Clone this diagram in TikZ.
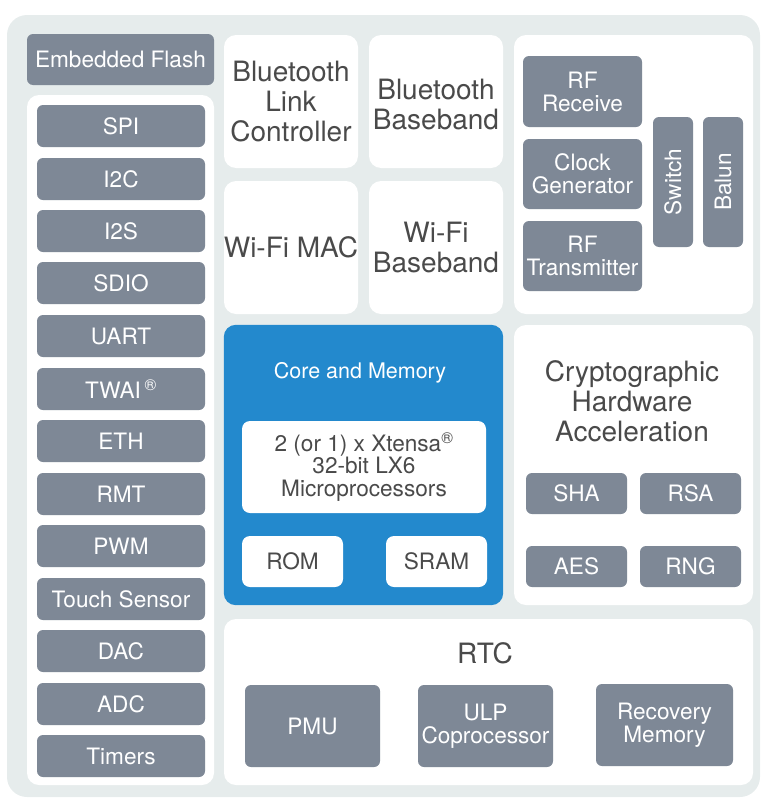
\documentclass[tikz,border=0pt]{standalone}
\usepackage{fontspec}
\setmainfont{TeX Gyre Heros}
\definecolor{bgc}{HTML}{E6ECEC}
\definecolor{boxgray}{HTML}{7E8896}
\definecolor{txt}{HTML}{4A4A4A}
\definecolor{coreblue}{HTML}{2389CD}
\tikzset{
  bgpanel/.style={fill=bgc, rounded corners=20pt},
  panel/.style={fill=white, rounded corners=12pt, inner sep=0pt},
  gbox/.style={fill=boxgray, rounded corners=6pt, text=white, inner sep=0pt, align=center, font=\fontsize{22.6}{23}\selectfont},
  wbox/.style={fill=white, rounded corners=8pt, text=txt, inner sep=0pt, align=center, font=\fontsize{22.6}{22.5}\selectfont},
  bigtext/.style={text=txt, align=center, font=\fontsize{28}{30}\selectfont},
}
\newcommand{\boxat}[6]{\node[#1, minimum width={#5pt-#3pt}, minimum height={#6pt-#4pt}] (#2) at ({(#3+#5)/2},{(#4+#6)/2})}
\begin{document}
\begin{tikzpicture}[x=1pt,y=-1pt]
\useasboundingbox (0,0) rectangle (761,798);
\fill[bgpanel] (7,15) rectangle (760,797);
% left column
\boxat{gbox}{flash}{27}{34}{214}{85}{Embedded Flash};
\boxat{panel}{leftpanel}{27}{95}{214}{785}{};
\foreach \t/\lab [count=\i] in {105/SPI,158/I2C,210/I2S,262/SDIO,315/UART,368/{TWAI\,\textsuperscript{\textregistered}},420/ETH,473/RMT,525/PWM,578/Touch Sensor,630/DAC,683/ADC,735/Timers}{
  \pgfmathsetmacro{\b}{\t+42}
  \boxat{gbox}{p\i}{37}{\t}{205}{\b}{\lab};
}
% radio blocks
\boxat{panel}{btlc}{224}{35}{358}{168}{};
\node[bigtext] (btlct) at (btlc) {Bluetooth\\Link\\Controller};
\boxat{panel}{btbb}{369}{35}{503}{168}{};
\node[bigtext] (btbbt) at ([yshift=-3pt]btbb.center) {Bluetooth\\Baseband};
\boxat{panel}{wmac}{224}{181}{358}{314}{};
\node[bigtext] (wmact) at (wmac) {Wi-Fi MAC};
\boxat{panel}{wbb}{369}{181}{503}{314}{};
\node[bigtext] (wbbt) at (wbb) {Wi-Fi\\Baseband};
% RF
\boxat{panel}{rf}{514}{35}{753}{314}{};
\boxat{gbox}{rfrx}{523}{56}{642}{127}{RF\\Receive};
\boxat{gbox}{clk}{523}{139}{642}{209}{Clock\\Generator};
\boxat{gbox}{rftx}{523}{221}{642}{291}{RF\\Transmitter};
\boxat{gbox}{sw}{653}{117}{693}{247}{};
\node[text=white, rotate=90, font=\fontsize{22.6}{23}\selectfont] (swt) at (sw) {Switch};
\boxat{gbox}{balun}{703}{117}{743}{247}{};
\node[text=white, rotate=90, font=\fontsize{22.6}{23}\selectfont] (balunt) at (balun) {Balun};
% core
\boxat{panel}{core}{224}{325}{503}{605}{};
\fill[coreblue, rounded corners=12pt] (core.south west) rectangle (core.north east);
\node[text=white, font=\fontsize{21.5}{23}\selectfont] (coret) at (360,373) {Core and Memory};
\boxat{wbox}{cpu}{242}{421}{486}{513}{2 (or 1) x Xtensa\textsuperscript{\textregistered}\\32-bit LX6\\Microprocessors};
\boxat{wbox}{rom}{242}{536}{343}{587}{ROM};
\boxat{wbox}{sram}{386}{536}{487}{587}{SRAM};
% crypto
\boxat{panel}{crypto}{514}{325}{753}{605}{};
\node[bigtext] (cryptot) at (632,401) {Cryptographic\\Hardware\\Acceleration};
\boxat{gbox}{sha}{526}{473}{627}{514}{SHA};
\boxat{gbox}{rsa}{640}{473}{741}{514}{RSA};
\boxat{gbox}{aes}{526}{546}{627}{587}{AES};
\boxat{gbox}{rng}{640}{546}{741}{587}{RNG};
% RTC
\boxat{panel}{rtc}{224}{619}{753}{785}{};
\node[bigtext] (rtct) at (485,653) {RTC};
\boxat{gbox}{pmu}{245}{685}{380}{767}{PMU};
\boxat{gbox}{ulp}{418}{685}{553}{767}{ULP\\Coprocessor};
\boxat{gbox}{rec}{596}{684}{733}{766}{Recovery\\Memory};
\end{tikzpicture}
\end{document}
